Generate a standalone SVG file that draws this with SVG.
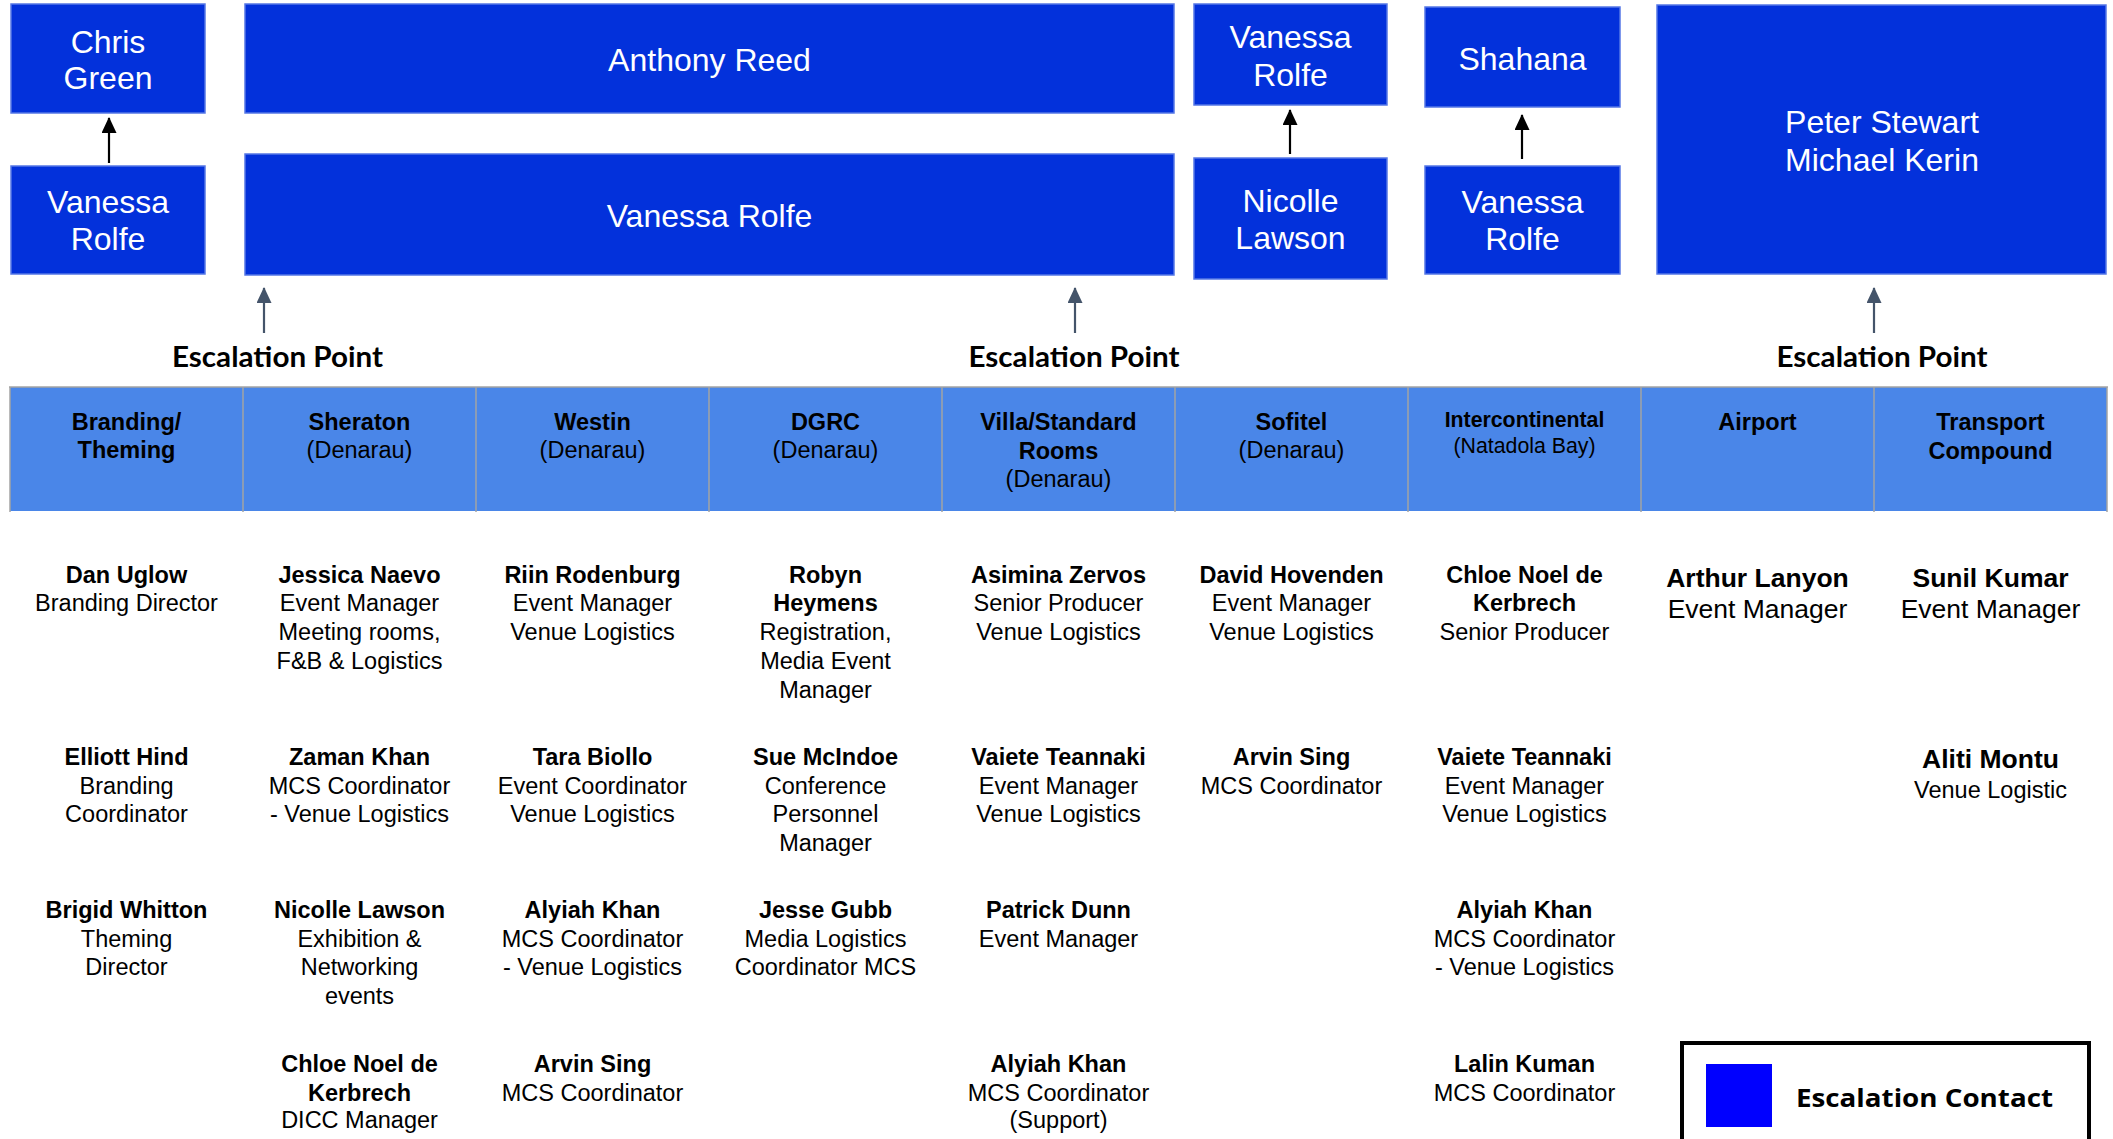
<svg xmlns="http://www.w3.org/2000/svg" width="2113" height="1139" viewBox="0 0 2113 1139">
<style>
.box{fill:#0331DB;stroke:#5577E6;stroke-width:1.5}
.bt{font-family:"Liberation Sans",Arial,sans-serif;font-size:32px;fill:#fff;text-anchor:middle}
.esc{font-family:Lato,"Liberation Sans",sans-serif;font-weight:700;font-size:29px;fill:#000;text-anchor:middle}
.hd{font-family:"Liberation Sans",Arial,sans-serif;font-size:23.5px;fill:#000;text-anchor:middle}
.b{font-weight:700}
.tx{font-family:"Liberation Sans",Arial,sans-serif;font-size:23.5px;fill:#000;text-anchor:middle}
.lg{font-size:26.5px}
.sm{font-size:21.3px}
.sep{stroke:#a3a3a3;stroke-width:1.5}
</style>
<defs>
<marker id="ab" markerWidth="16" markerHeight="15" refX="15" refY="7.5" orient="auto" markerUnits="userSpaceOnUse" viewBox="0 0 16 15">
<path d="M0 0 L16 7.5 L0 15 Z" fill="#000"/>
</marker>
<marker id="ag" markerWidth="16" markerHeight="15" refX="15" refY="7.5" orient="auto" markerUnits="userSpaceOnUse" viewBox="0 0 16 15">
<path d="M0 0 L16 7.5 L0 15 Z" fill="#44546A"/>
</marker>
</defs>
<rect width="2113" height="1139" fill="#fff"/>

<g id="node-chris-green"><rect class="box" x="11" y="4" width="194" height="109"/><text class="bt" x="108" y="53">Chris</text><text class="bt" x="108" y="89">Green</text></g>
<g id="node-vanessa-rolfe-1"><rect class="box" x="11" y="166" width="194" height="108"/><text class="bt" x="108" y="213">Vanessa</text><text class="bt" x="108" y="250">Rolfe</text></g>
<g id="node-anthony-reed"><rect class="box" x="245" y="4" width="929" height="109"/><text class="bt" x="709.5" y="71">Anthony Reed</text></g>
<g id="node-vanessa-rolfe-2"><rect class="box" x="245" y="154" width="929" height="121"/><text class="bt" x="709.5" y="227">Vanessa Rolfe</text></g>
<g id="node-vanessa-rolfe-3"><rect class="box" x="1194" y="4" width="193" height="101"/><text class="bt" x="1290.5" y="48">Vanessa</text><text class="bt" x="1290.5" y="86">Rolfe</text></g>
<g id="node-nicolle-lawson"><rect class="box" x="1194" y="158" width="193" height="121"/><text class="bt" x="1290.5" y="212">Nicolle</text><text class="bt" x="1290.5" y="249">Lawson</text></g>
<g id="node-shahana"><rect class="box" x="1425" y="7" width="195" height="100"/><text class="bt" x="1522.5" y="70">Shahana</text></g>
<g id="node-vanessa-rolfe-4"><rect class="box" x="1425" y="166" width="195" height="108"/><text class="bt" x="1522.5" y="213">Vanessa</text><text class="bt" x="1522.5" y="250">Rolfe</text></g>
<g id="node-peter-michael"><rect class="box" x="1657" y="5" width="449" height="269"/><text class="bt" x="1882" y="133">Peter Stewart</text><text class="bt" x="1882" y="171">Michael Kerin</text></g>

<g id="connectors">
<line x1="109" y1="163" x2="109" y2="118" stroke="#000" stroke-width="2.2" marker-end="url(#ab)"/>
<line x1="1290" y1="154" x2="1290" y2="110" stroke="#000" stroke-width="2.2" marker-end="url(#ab)"/>
<line x1="1522" y1="159" x2="1522" y2="115" stroke="#000" stroke-width="2.2" marker-end="url(#ab)"/>
<line x1="264" y1="333" x2="264" y2="288" stroke="#44546A" stroke-width="2.2" marker-end="url(#ag)"/>
<line x1="1075" y1="333" x2="1075" y2="288" stroke="#44546A" stroke-width="2.2" marker-end="url(#ag)"/>
<line x1="1874" y1="333" x2="1874" y2="288" stroke="#44546A" stroke-width="2.2" marker-end="url(#ag)"/>
</g>

<g id="escalation-labels">
<text class="esc" x="277.5" y="367" textLength="211" lengthAdjust="spacingAndGlyphs">Escalation Point</text>
<text class="esc" x="1074" y="367" textLength="211" lengthAdjust="spacingAndGlyphs">Escalation Point</text>
<text class="esc" x="1882" y="367" textLength="211" lengthAdjust="spacingAndGlyphs">Escalation Point</text>
</g>

<g id="header">
<rect x="10" y="387" width="2097" height="124" fill="#4A86E8"/>
<line class="sep" x1="9" y1="387" x2="2108" y2="387" stroke-width="2.5"/>
<line class="sep" x1="10" y1="387" x2="10" y2="512"/>
<line class="sep" x1="243" y1="387" x2="243" y2="512"/>
<line class="sep" x1="476" y1="387" x2="476" y2="512"/>
<line class="sep" x1="709" y1="387" x2="709" y2="512"/>
<line class="sep" x1="942" y1="387" x2="942" y2="512"/>
<line class="sep" x1="1175" y1="387" x2="1175" y2="512"/>
<line class="sep" x1="1408" y1="387" x2="1408" y2="512"/>
<line class="sep" x1="1641" y1="387" x2="1641" y2="512"/>
<line class="sep" x1="1874" y1="387" x2="1874" y2="512"/>
<line class="sep" x1="2107" y1="387" x2="2107" y2="512"/>
<text class="hd b" x="126.5" y="430">Branding/</text><text class="hd b" x="126.5" y="458">Theming</text>
<text class="hd b" x="359.5" y="430">Sheraton</text><text class="hd" x="359.5" y="458">(Denarau)</text>
<text class="hd b" x="592.5" y="430">Westin</text><text class="hd" x="592.5" y="458">(Denarau)</text>
<text class="hd b" x="825.5" y="430">DGRC</text><text class="hd" x="825.5" y="458">(Denarau)</text>
<text class="hd b" x="1058.5" y="430">Villa/Standard</text><text class="hd b" x="1058.5" y="459">Rooms</text><text class="hd" x="1058.5" y="487">(Denarau)</text>
<text class="hd b" x="1291.5" y="430">Sofitel</text><text class="hd" x="1291.5" y="458">(Denarau)</text>
<text class="hd b sm" x="1524.5" y="427">Intercontinental</text><text class="hd sm" x="1524.5" y="453">(Natadola Bay)</text>
<text class="hd b" x="1757.5" y="430">Airport</text>
<text class="hd b" x="1990.5" y="430">Transport</text><text class="hd b" x="1990.5" y="459">Compound</text>
</g>

<g id="col-branding">
<text class="tx b" x="126.5" y="583">Dan Uglow</text><text class="tx" x="126.5" y="611">Branding Director</text>
<text class="tx b" x="126.5" y="765">Elliott Hind</text><text class="tx" x="126.5" y="794">Branding</text><text class="tx" x="126.5" y="822">Coordinator</text>
<text class="tx b" x="126.5" y="918">Brigid Whitton</text><text class="tx" x="126.5" y="947">Theming</text><text class="tx" x="126.5" y="975">Director</text>
</g>
<g id="col-sheraton">
<text class="tx b" x="359.5" y="583">Jessica Naevo</text><text class="tx" x="359.5" y="611">Event Manager</text><text class="tx" x="359.5" y="640">Meeting rooms,</text><text class="tx" x="359.5" y="669">F&amp;B &amp; Logistics</text>
<text class="tx b" x="359.5" y="765">Zaman Khan</text><text class="tx" x="359.5" y="794">MCS Coordinator</text><text class="tx" x="359.5" y="822">- Venue Logistics</text>
<text class="tx b" x="359.5" y="918">Nicolle Lawson</text><text class="tx" x="359.5" y="947">Exhibition &amp;</text><text class="tx" x="359.5" y="975">Networking</text><text class="tx" x="359.5" y="1004">events</text>
<text class="tx b" x="359.5" y="1072">Chloe Noel de</text><text class="tx b" x="359.5" y="1101">Kerbrech</text><text class="tx" x="359.5" y="1128">DICC Manager</text>
</g>
<g id="col-westin">
<text class="tx b" x="592.5" y="583">Riin Rodenburg</text><text class="tx" x="592.5" y="611">Event Manager</text><text class="tx" x="592.5" y="640">Venue Logistics</text>
<text class="tx b" x="592.5" y="765">Tara Biollo</text><text class="tx" x="592.5" y="794">Event Coordinator</text><text class="tx" x="592.5" y="822">Venue Logistics</text>
<text class="tx b" x="592.5" y="918">Alyiah Khan</text><text class="tx" x="592.5" y="947">MCS Coordinator</text><text class="tx" x="592.5" y="975">- Venue Logistics</text>
<text class="tx b" x="592.5" y="1072">Arvin Sing</text><text class="tx" x="592.5" y="1101">MCS Coordinator</text>
</g>
<g id="col-dgrc">
<text class="tx b" x="825.5" y="583">Robyn</text><text class="tx b" x="825.5" y="611">Heymens</text><text class="tx" x="825.5" y="640">Registration,</text><text class="tx" x="825.5" y="669">Media Event</text><text class="tx" x="825.5" y="698">Manager</text>
<text class="tx b" x="825.5" y="765">Sue McIndoe</text><text class="tx" x="825.5" y="794">Conference</text><text class="tx" x="825.5" y="822">Personnel</text><text class="tx" x="825.5" y="851">Manager</text>
<text class="tx b" x="825.5" y="918">Jesse Gubb</text><text class="tx" x="825.5" y="947">Media Logistics</text><text class="tx" x="825.5" y="975">Coordinator MCS</text>
</g>
<g id="col-villa">
<text class="tx b" x="1058.5" y="583">Asimina Zervos</text><text class="tx" x="1058.5" y="611">Senior Producer</text><text class="tx" x="1058.5" y="640">Venue Logistics</text>
<text class="tx b" x="1058.5" y="765">Vaiete Teannaki</text><text class="tx" x="1058.5" y="794">Event Manager</text><text class="tx" x="1058.5" y="822">Venue Logistics</text>
<text class="tx b" x="1058.5" y="918">Patrick Dunn</text><text class="tx" x="1058.5" y="947">Event Manager</text>
<text class="tx b" x="1058.5" y="1072">Alyiah Khan</text><text class="tx" x="1058.5" y="1101">MCS Coordinator</text><text class="tx" x="1058.5" y="1128">(Support)</text>
</g>
<g id="col-sofitel">
<text class="tx b" x="1291.5" y="583">David Hovenden</text><text class="tx" x="1291.5" y="611">Event Manager</text><text class="tx" x="1291.5" y="640">Venue Logistics</text>
<text class="tx b" x="1291.5" y="765">Arvin Sing</text><text class="tx" x="1291.5" y="794">MCS Coordinator</text>
</g>
<g id="col-intercontinental">
<text class="tx b" x="1524.5" y="583">Chloe Noel de</text><text class="tx b" x="1524.5" y="611">Kerbrech</text><text class="tx" x="1524.5" y="640">Senior Producer</text>
<text class="tx b" x="1524.5" y="765">Vaiete Teannaki</text><text class="tx" x="1524.5" y="794">Event Manager</text><text class="tx" x="1524.5" y="822">Venue Logistics</text>
<text class="tx b" x="1524.5" y="918">Alyiah Khan</text><text class="tx" x="1524.5" y="947">MCS Coordinator</text><text class="tx" x="1524.5" y="975">- Venue Logistics</text>
<text class="tx b" x="1524.5" y="1072">Lalin Kuman</text><text class="tx" x="1524.5" y="1101">MCS Coordinator</text>
</g>
<g id="col-airport">
<text class="tx b lg" x="1757.5" y="587">Arthur Lanyon</text><text class="tx lg" x="1757.5" y="618">Event Manager</text>
</g>
<g id="col-transport">
<text class="tx b lg" x="1990.5" y="587">Sunil Kumar</text><text class="tx lg" x="1990.5" y="618">Event Manager</text>
<text class="tx b lg" x="1990.5" y="768">Aliti Montu</text><text class="tx" x="1990.5" y="798">Venue Logistic</text>
</g>

<g id="legend">
<rect x="1682" y="1043" width="407" height="120" fill="#fff" stroke="#000" stroke-width="4"/>
<rect x="1706" y="1064" width="66" height="63" fill="#0000FF"/>
<text x="1924.5" y="1107" font-family="'Open Sans','Liberation Sans',sans-serif" font-weight="700" font-size="25px" text-anchor="middle" textLength="257" lengthAdjust="spacingAndGlyphs">Escalation Contact</text>
</g>
</svg>
